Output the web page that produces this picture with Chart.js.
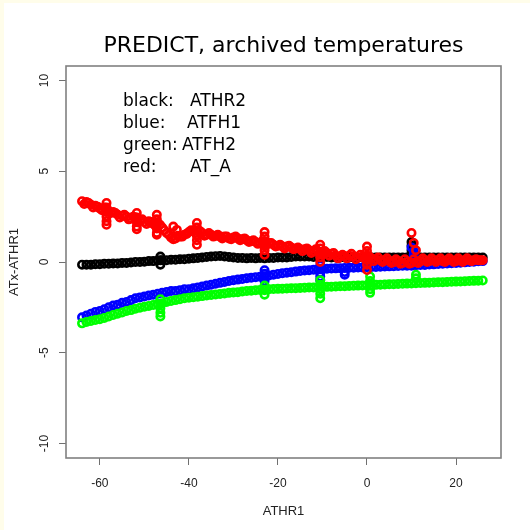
<!DOCTYPE html>
<html>
<head>
<meta charset="utf-8">
<script src="https://cdn.jsdelivr.net/npm/chart.js@4.4.1/dist/chart.umd.min.js"></script>
<style>
  html, body { margin: 0; padding: 0; background: #fffdea; }
  #wrap { position: absolute; left: 4px; top: 3px; width: 526px; height: 527px; background: #ffffff; }
</style>
</head>
<body>
<div id="wrap"><canvas id="chart" width="526" height="527"></canvas></div>
<script>
// ATHR1 (x) shared by all four series
const athr1 = [
  -64, -63, -62, -61, -60, -59, -58, -57, -56, -55,
  -54, -53, -52, -51, -50, -49, -48, -47, -46, -45,
  -44, -43, -42, -41, -40, -39, -38, -37, -36, -35,
  -34, -33, -32, -31, -30, -29, -28, -27, -26, -25,
  -24, -23, -22, -21, -20, -19, -18, -17, -16, -15,
  -14, -13, -12, -11, -10, -9, -8, -7, -6, -5,
  -4, -3, -2, -1, 0, 1, 2, 3, 4, 5,
  6, 7, 8, 9, 10, 11, 12, 13, 14, 15,
  16, 17, 18, 19, 20, 21, 22, 23, 24, 25, 26
];

// ATx - ATHR1
const athr2 = [
  -0.15, -0.15, -0.15, -0.12, -0.12, -0.1, -0.1, -0.08, -0.08, -0.05,
  -0.05, -0.03, 0.0, 0.0, 0.02, 0.05, 0.05, 0.08, 0.1, 0.1,
  0.12, 0.12, 0.15, 0.15, 0.18, 0.2, 0.22, 0.25, 0.28, 0.3,
  0.32, 0.33, 0.3, 0.28, 0.25, 0.22, 0.22, 0.2, 0.22, 0.2,
  0.22, 0.2, 0.22, 0.22, 0.25, 0.25, 0.25, 0.28, 0.3, 0.3,
  0.3, 0.3, 0.28, 0.28, 0.28, 0.28, 0.25, 0.25, 0.25, 0.25,
  0.25, 0.25, 0.25, 0.25, 0.25, 0.25, 0.25, 0.25, 0.25, 0.25,
  0.25, 0.25, 0.25, 0.25, 0.25, 0.25, 0.25, 0.25, 0.25, 0.25,
  0.25, 0.25, 0.25, 0.25, 0.25, 0.25, 0.25, 0.25, 0.25, 0.25, 0.25
];
const atfh1 = [
  -3.05, -2.95, -2.85, -2.75, -2.7, -2.6, -2.5, -2.4, -2.35, -2.25,
  -2.2, -2.1, -2.0, -1.95, -1.9, -1.85, -1.8, -1.75, -1.7, -1.65,
  -1.6, -1.6, -1.55, -1.5, -1.5, -1.45, -1.4, -1.35, -1.3, -1.25,
  -1.2, -1.15, -1.1, -1.05, -1.0, -0.97, -0.94, -0.9, -0.87, -0.84,
  -0.81, -0.78, -0.74, -0.7, -0.66, -0.62, -0.59, -0.56, -0.53, -0.5,
  -0.47, -0.45, -0.43, -0.4, -0.38, -0.37, -0.36, -0.35, -0.34, -0.33,
  -0.32, -0.31, -0.3, -0.3, -0.29, -0.28, -0.27, -0.26, -0.25, -0.24,
  -0.23, -0.22, -0.21, -0.2, -0.2, -0.18, -0.17, -0.16, -0.14, -0.13,
  -0.11, -0.1, -0.08, -0.07, -0.05, -0.04, -0.02, 0.0, 0.02, 0.04, 0.05
];
const atfh2 = [
  -3.38, -3.3, -3.25, -3.2, -3.15, -3.08, -3.0, -2.92, -2.85, -2.78,
  -2.7, -2.65, -2.58, -2.52, -2.47, -2.42, -2.37, -2.32, -2.27, -2.2,
  -2.15, -2.1, -2.05, -2.0, -1.97, -1.94, -1.91, -1.88, -1.85, -1.82,
  -1.79, -1.76, -1.73, -1.7, -1.68, -1.66, -1.63, -1.6, -1.58, -1.56,
  -1.54, -1.52, -1.5, -1.49, -1.48, -1.47, -1.46, -1.45, -1.44, -1.43,
  -1.42, -1.41, -1.4, -1.39, -1.38, -1.37, -1.36, -1.35, -1.34, -1.33,
  -1.32, -1.31, -1.3, -1.29, -1.28, -1.27, -1.26, -1.25, -1.24, -1.23,
  -1.22, -1.21, -1.2, -1.19, -1.18, -1.17, -1.16, -1.15, -1.14, -1.13,
  -1.12, -1.11, -1.1, -1.09, -1.08, -1.07, -1.06, -1.05, -1.04, -1.03, -1.02
];
const atA = [
  3.35, 3.3, 3.15, 3.1, 2.95, 3.0, 2.8, 2.75, 2.6, 2.55,
  2.5, 2.4, 2.45, 2.3, 2.2, 2.25, 2.1, 2.15, 1.9, 1.6,
  1.35, 1.3, 1.4, 1.5, 1.65, 1.7, 1.75, 1.6, 1.5, 1.5,
  1.45, 1.4, 1.4, 1.3, 1.35, 1.3, 1.25, 1.2, 1.15, 1.1,
  1.05, 1.0, 1.05, 0.95, 0.9, 0.85, 0.85, 0.8, 0.75, 0.7,
  0.7, 0.65, 0.6, 0.6, 0.55, 0.5, 0.45, 0.35, 0.3, 0.3,
  0.35, 0.3, 0.25, 0.3, 0.35, 0.2, 0.15, 0.1, 0.1, 0.05,
  0.0, 0.05, -0.05, 0.0, -0.05, 0.0, 0.05, 0.1, 0.05, 0.1,
  0.1, 0.05, 0.1, 0.1, 0.05, 0.1, 0.1, 0.1, 0.1, 0.1, 0.1
];

// second, half-step row of the red series (its band is wider)
const athr1Half = [
  -63.5, -62.5, -61.5, -60.5, -59.5, -58.5, -57.5, -56.5, -55.5, -54.5,
  -53.5, -52.5, -51.5, -50.5, -49.5, -48.5, -47.5, -46.5, -45.5, -44.5,
  -43.5, -42.5, -41.5, -40.5, -39.5, -38.5, -37.5, -36.5, -35.5, -34.5,
  -33.5, -32.5, -31.5, -30.5, -29.5, -28.5, -27.5, -26.5, -25.5, -24.5,
  -23.5, -22.5, -21.5, -20.5, -19.5, -18.5, -17.5, -16.5, -15.5, -14.5,
  -13.5, -12.5, -11.5, -10.5, -9.5, -8.5, -7.5, -6.5, -5.5, -4.5,
  -3.5, -2.5, -1.5, -0.5, 0.5, 1.5, 2.5, 3.5, 4.5, 5.5,
  6.5, 7.5, 8.5, 9.5, 10.5, 11.5, 12.5, 13.5, 14.5, 15.5,
  16.5, 17.5, 18.5, 19.5, 20.5, 21.5, 22.5, 23.5, 24.5, 25.5
];
const atAHalf = [
  3.2, 3.25, 3.0, 3.05, 2.85, 2.95, 2.7, 2.7, 2.45, 2.6,
  2.35, 2.5, 2.2, 2.35, 2.1, 2.2, 2.0, 2.05, 1.75, 1.5,
  1.25, 1.45, 1.4, 1.55, 1.75, 1.6, 1.7, 1.45, 1.6, 1.4,
  1.5, 1.3, 1.4, 1.25, 1.4, 1.2, 1.3, 1.1, 1.2, 1.0,
  1.15, 0.95, 1.05, 0.85, 0.95, 0.75, 0.9, 0.7, 0.8, 0.6,
  0.75, 0.5, 0.7, 0.45, 0.6, 0.35, 0.5, 0.2, 0.4, 0.2,
  0.45, 0.15, 0.4, 0.2, 0.3, 0.05, 0.25, 0.0, 0.2, -0.05,
  0.15, -0.1, 0.15, -0.1, 0.15, -0.05, 0.2, 0.0, 0.2, 0.0,
  0.2, 0.0, 0.2, 0.0, 0.2, 0.0, 0.2, 0.05, 0.15, 0.1
];

// vertical bursts and scattered points seen along the curves
const athr2BurstX = [-46.4, -46.4, -46.4, 10, 10, 10, 10];
const athr2BurstY = [0.3, 0.1, -0.15, 1.1, 0.9, 0.65, 0.45];
const atfh1BurstX = [-23, -23, -23, -23, -10.5, -10.5, -10.5, -10.5, -10.5, -5, -5, 10, 10.5, 10.5, 10.5];
const atfh1BurstY = [-0.45, -0.65, -0.85, -1.05, -0.2, -0.4, -0.6, -0.8, -1.0, -0.55, -0.7, 0.8, 0.6, 0.4, 0.2];
const atfh2BurstX = [
  -46.4, -46.4, -46.4, -46.4, -46.4, -23, -23, -23,
  -10.5, -10.5, -10.5, -10.5, -10.5, 0.7, 0.7, 0.7, 0.7, 0.7, 11, 11
];
const atfh2BurstY = [
  -2.05, -2.3, -2.55, -2.8, -3.0, -1.3, -1.55, -1.8,
  -1.0, -1.25, -1.5, -1.75, -2.0, -0.8, -1.05, -1.3, -1.5, -1.7, -0.7, -0.9
];
const atABurstX = [
  -58.5, -58.5, -58.5, -58.5, -58.5, -58.5,
  -51.7, -51.7, -51.7, -51.7, -51.7,
  -47.2, -47.2, -47.2, -47.2, -47.2, -47.2,
  -43.5, -42.7,
  -38.2, -38.2, -38.2, -38.2, -38.2,
  -23, -23, -23, -23, -23, -23,
  -10.5, -10.5, -10.5, -10.5, -10.5,
  0, 0, 0, 0, 0,
  10, 10.5, 11
];
const atABurstY = [
  3.25, 3.0, 2.75, 2.5, 2.25, 2.05,
  2.7, 2.45, 2.2, 1.95, 1.8,
  2.6, 2.35, 2.1, 1.85, 1.6, 1.5,
  1.95, 1.77,
  2.15, 1.9, 1.45, 1.2, 0.95,
  1.65, 1.4, 1.15, 0.9, 0.65, 0.4,
  0.95, 0.75, 0.5, 0.25, 0.0,
  0.85, 0.6, 0.1, -0.15, -0.44,
  1.6, 1.05, 0.65
];

const xTicks = [-60, -40, -20, 0, 20];
const yTicks = [-10, -5, 0, 5, 10];
const legendKeys = ['black:', 'blue:', 'green:', 'red:'];
const legendNames = ['ATHR2', 'ATFH1', 'ATFH2', 'AT_A'];

function pts(...pairs) {
  const out = [];
  for (let p = 0; p < pairs.length; p += 2) {
    pairs[p].forEach((x, i) => out.push({ x: x, y: pairs[p + 1][i] }));
  }
  return out;
}

const frame = {
  id: 'frame',
  afterDraw(chart) {
    const { ctx, chartArea: a } = chart;
    ctx.save();
    ctx.strokeStyle = '#808080';
    ctx.lineWidth = 1.6;
    ctx.strokeRect(a.left, a.top, a.right - a.left, a.bottom - a.top);
    // legend text written inside the plot
    ctx.fillStyle = '#000';
    ctx.font = '17px "DejaVu Sans"';
    ctx.textBaseline = 'alphabetic';
    const nameX = [186, 183, 178, 186];
    legendKeys.forEach((k, i) => {
      const y = 103 + i * 22;
      ctx.fillText(k, 119, y);
      ctx.fillText(legendNames[i], nameX[i], y);
    });
    ctx.restore();
  }
};

const circle = (color) => ({
  pointStyle: 'circle',
  pointRadius: 3.7,
  pointBorderWidth: 2.6,
  borderColor: color,
  backgroundColor: 'rgba(0,0,0,0)',
  pointHoverRadius: 3.7
});

new Chart(document.getElementById('chart'), {
  type: 'scatter',
  data: {
    datasets: [
      Object.assign({ label: 'AT_A', data: pts(athr1, atA, athr1Half, atAHalf, atABurstX, atABurstY) }, circle('#ff0000')),
      Object.assign({ label: 'ATFH2', data: pts(athr1, atfh2, atfh2BurstX, atfh2BurstY) }, circle('#00ff00')),
      Object.assign({ label: 'ATFH1', data: pts(athr1, atfh1, atfh1BurstX, atfh1BurstY) }, circle('#0000ff')),
      Object.assign({ label: 'ATHR2', data: pts(athr1, athr2, athr2BurstX, athr2BurstY) }, circle('#000000'))
    ]
  },
  options: {
    responsive: false,
    animation: false,
    layout: { padding: { left: 0, right: 29, top: 0, bottom: 0 } },
    plugins: {
      legend: { display: false },
      tooltip: { enabled: false },
      title: {
        display: true,
        fullSize: false,
        text: 'PREDICT, archived temperatures',
        color: '#000',
        font: { family: '"DejaVu Sans"', size: 22, weight: 'normal', lineHeight: 1.2 },
        padding: { top: 29.8, bottom: 6.8 }
      }
    },
    scales: {
      x: {
        type: 'linear',
        min: -67.6,
        max: 30.1,
        afterBuildTicks: (s) => { s.ticks = xTicks.map(v => ({ value: v })); },
        afterFit: (s) => { s.height = 72; },
        border: { display: false },
        grid: { drawOnChartArea: false, drawTicks: true, tickLength: 7, color: '#707070', lineWidth: 1 },
        ticks: {
          color: '#222',
          font: { family: '"Liberation Sans"', size: 12 },
          padding: 11,
          maxRotation: 0,
          callback: (v) => String(v)
        },
        title: {
          display: true,
          text: 'ATHR1',
          color: '#222',
          font: { family: '"Liberation Sans"', size: 13 },
          padding: { top: 0, bottom: 11 }
        }
      },
      y: {
        type: 'linear',
        min: -10.8,
        max: 10.8,
        afterBuildTicks: (s) => { s.ticks = yTicks.map(v => ({ value: v })); },
        afterFit: (s) => { s.width = 62; },
        border: { display: false },
        grid: { drawOnChartArea: false, drawTicks: true, tickLength: 7, color: '#707070', lineWidth: 1 },
        ticks: {
          color: '#222',
          font: { family: '"Liberation Sans"', size: 12 },
          minRotation: 90,
          maxRotation: 90,
          crossAlign: 'center',
          padding: 6,
          callback: (v) => String(v)
        },
        title: {
          display: true,
          text: 'ATx-ATHR1',
          color: '#222',
          font: { family: '"Liberation Sans"', size: 13 },
          padding: { top: 3 }
        }
      }
    }
  },
  plugins: [frame]
});
</script>
</body>
</html>
